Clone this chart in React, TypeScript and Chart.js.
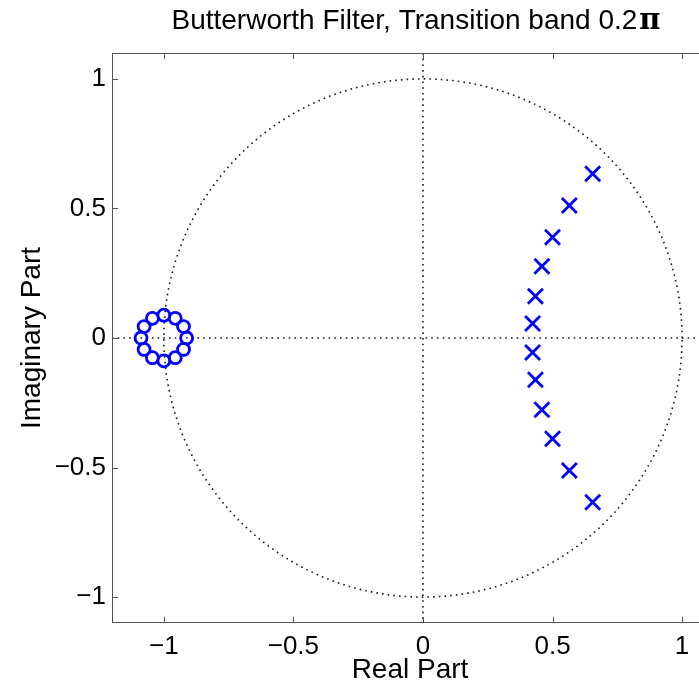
import React, { useEffect, useRef } from 'react';
import { Chart, registerables } from 'chart.js';

Chart.register(...registerables);

// Zeros (ring of 12 nearly coincident zeros around z = -1)
const zeroReal = [-0.912, -0.924, -0.956, -1.0, -1.044, -1.076, -1.088, -1.076, -1.044, -1.0, -0.956, -0.924];
const zeroImag = [0.0, 0.044, 0.076, 0.088, 0.076, 0.044, 0.0, -0.044, -0.076, -0.088, -0.076, -0.044];

// Poles
const poleReal = [0.655, 0.565, 0.5, 0.459, 0.434, 0.423, 0.423, 0.434, 0.459, 0.5, 0.565, 0.655];
const poleImag = [0.634, 0.511, 0.389, 0.277, 0.161, 0.056, -0.056, -0.161, -0.277, -0.389, -0.511, -0.634];

// Axes
const xRange = [-1.2, 1.1];
const yRange = [-1.1, 1.1];
const xTicks = [-1, -0.5, 0, 0.5, 1];
const xTickLabels = ['\u22121', '\u22120.5', '0', '0.5', '1'];
const yTicks = [-1, -0.5, 0, 0.5, 1];
const yTickLabels = ['\u22121', '\u22120.5', '0', '0.5', '1'];

const titleMain = 'Butterworth Filter, Transition band 0.2';
const titleSymbol = '\u03C0';
const xTitle = 'Real Part';
const yTitle = 'Imaginary Part';

const FONT = '"Liberation Sans", Arial, Helvetica, sans-serif';
const BLUE = '#0000ff';

const CANVAS_W = 730;
const CANVAS_H = 686;

const refPlugin = {
  id: 'refLines',
  beforeDatasetsDraw(chart: any) {
    const { ctx, chartArea, scales } = chart;
    const xs = scales.x;
    const ys = scales.y;
    ctx.save();
    ctx.beginPath();
    ctx.rect(chartArea.left, chartArea.top, chartArea.right - chartArea.left, chartArea.bottom - chartArea.top);
    ctx.clip();
    ctx.strokeStyle = '#1a1a1a';
    ctx.lineWidth = 1.6;
    ctx.setLineDash([1.6, 4.1]);
    // unit circle
    ctx.beginPath();
    const n = 720;
    for (let i = 0; i <= n; i++) {
      const t = (i / n) * Math.PI * 2;
      const px = xs.getPixelForValue(Math.cos(t));
      const py = ys.getPixelForValue(Math.sin(t));
      if (i === 0) ctx.moveTo(px, py);
      else ctx.lineTo(px, py);
    }
    ctx.stroke();
    // real axis
    const y0 = ys.getPixelForValue(0);
    ctx.beginPath();
    ctx.moveTo(chartArea.left, y0);
    ctx.lineTo(chartArea.right, y0);
    ctx.stroke();
    // imaginary axis
    const x0 = xs.getPixelForValue(0);
    ctx.beginPath();
    ctx.moveTo(x0, chartArea.top);
    ctx.lineTo(x0, chartArea.bottom);
    ctx.stroke();
    ctx.restore();
  },
  afterDraw(chart: any) {
    const { ctx, chartArea, scales } = chart;
    const { left, right, top, bottom } = chartArea;
    ctx.save();
    ctx.strokeStyle = '#555';
    ctx.lineWidth = 1;
    ctx.setLineDash([]);
    ctx.strokeRect(left + 0.5, top + 0.5, right - left - 1, bottom - top - 1);
    const tl = 6;
    ctx.beginPath();
    xTicks.forEach((v) => {
      const px = Math.round(scales.x.getPixelForValue(v)) + 0.5;
      ctx.moveTo(px, top);
      ctx.lineTo(px, top + tl);
      ctx.moveTo(px, bottom);
      ctx.lineTo(px, bottom - tl);
    });
    yTicks.forEach((v) => {
      const py = Math.round(scales.y.getPixelForValue(v)) + 0.5;
      ctx.moveTo(left, py);
      ctx.lineTo(left + tl, py);
      ctx.moveTo(right, py);
      ctx.lineTo(right - tl, py);
    });
    ctx.stroke();

    // title
    ctx.fillStyle = '#000';
    ctx.textBaseline = 'alphabetic';
    ctx.textAlign = 'left';
    const mainFont = '28px ' + FONT;
    const symFont = 'bold 29px "DejaVu Serif", serif';
    ctx.font = mainFont;
    const w1 = ctx.measureText(titleMain).width;
    ctx.font = symFont;
    const w2 = ctx.measureText(titleSymbol).width;
    const cx = 416;
    const sx = cx - (w1 + w2 + 2) / 2;
    const baseY = 29;
    ctx.font = mainFont;
    ctx.fillText(titleMain, sx, baseY);
    ctx.font = symFont;
    ctx.fillText(titleSymbol, sx + w1 + 2, baseY);
    ctx.restore();
  },
};

export default function App() {
  const canvasRef = useRef<HTMLCanvasElement | null>(null);

  useEffect(() => {
    const canvas = canvasRef.current;
    if (!canvas) return;
    const zeros = zeroReal.map((x, i) => ({ x, y: zeroImag[i] }));
    const poles = poleReal.map((x, i) => ({ x, y: poleImag[i] }));

    const chart = new Chart(canvas, {
      type: 'scatter',
      data: {
        datasets: [
          {
            label: 'Zeros',
            data: zeros,
            pointStyle: 'circle',
            pointRadius: 6,
            pointBorderWidth: 2.8,
            borderColor: BLUE,
            backgroundColor: 'rgba(0,0,0,0)',
            pointHoverRadius: 6,
          },
          {
            label: 'Poles',
            data: poles,
            pointStyle: 'crossRot',
            pointRadius: 10.6,
            pointBorderWidth: 2.8,
            borderColor: BLUE,
            backgroundColor: BLUE,
            pointHoverRadius: 10.6,
          },
        ],
      },
      options: {
        animation: false,
        responsive: false,
        devicePixelRatio: 1,
        events: [],
        layout: { padding: { left: 0, top: 53, right: CANVAS_W - 708, bottom: 0 } },
        plugins: {
          legend: { display: false },
          title: { display: false },
          tooltip: { enabled: false },
        },
        scales: {
          x: {
            type: 'linear',
            min: xRange[0],
            max: xRange[1],
            grid: { display: false, drawTicks: false },
            border: { display: false },
            ticks: {
              includeBounds: false,
              padding: 8,
              color: '#000',
              font: { family: FONT, size: 26 },
              callback: (v: any) => {
                const i = xTicks.indexOf(Number(v));
                return i >= 0 ? xTickLabels[i] : '';
              },
            },
            afterBuildTicks: (scale: any) => {
              scale.ticks = xTicks.map((value) => ({ value }));
            },
            afterFit: (scale: any) => {
              scale.height = CANVAS_H - 623;
            },
            title: {
              display: true,
              text: xTitle,
              color: '#000',
              font: { family: FONT, size: 28, lineHeight: 1.1 },
              padding: { top: 0, bottom: 0 },
            },
          },
          y: {
            type: 'linear',
            min: yRange[0],
            max: yRange[1],
            grid: { display: false, drawTicks: false },
            border: { display: false },
            ticks: {
              includeBounds: false,
              padding: 6,
              color: '#000',
              font: { family: FONT, size: 26 },
              callback: (v: any) => {
                const i = yTicks.indexOf(Number(v));
                return i >= 0 ? yTickLabels[i] : '';
              },
            },
            afterBuildTicks: (scale: any) => {
              scale.ticks = yTicks.map((value) => ({ value }));
            },
            afterFit: (scale: any) => {
              scale.width = 112;
            },
            title: {
              display: true,
              text: yTitle,
              color: '#000',
              font: { family: FONT, size: 28, lineHeight: 1.1 },
              padding: { top: 17, bottom: 0 },
            },
          },
        },
      },
      plugins: [refPlugin],
    } as any);

    return () => {
      chart.destroy();
    };
  }, []);

  return (
    <div
      style={{
        position: 'fixed',
        left: 0,
        top: 0,
        width: 699,
        height: 686,
        overflow: 'hidden',
        background: '#fff',
      }}
    >
      <canvas ref={canvasRef} width={CANVAS_W} height={CANVAS_H} style={{ display: 'block' }} />
    </div>
  );
}
